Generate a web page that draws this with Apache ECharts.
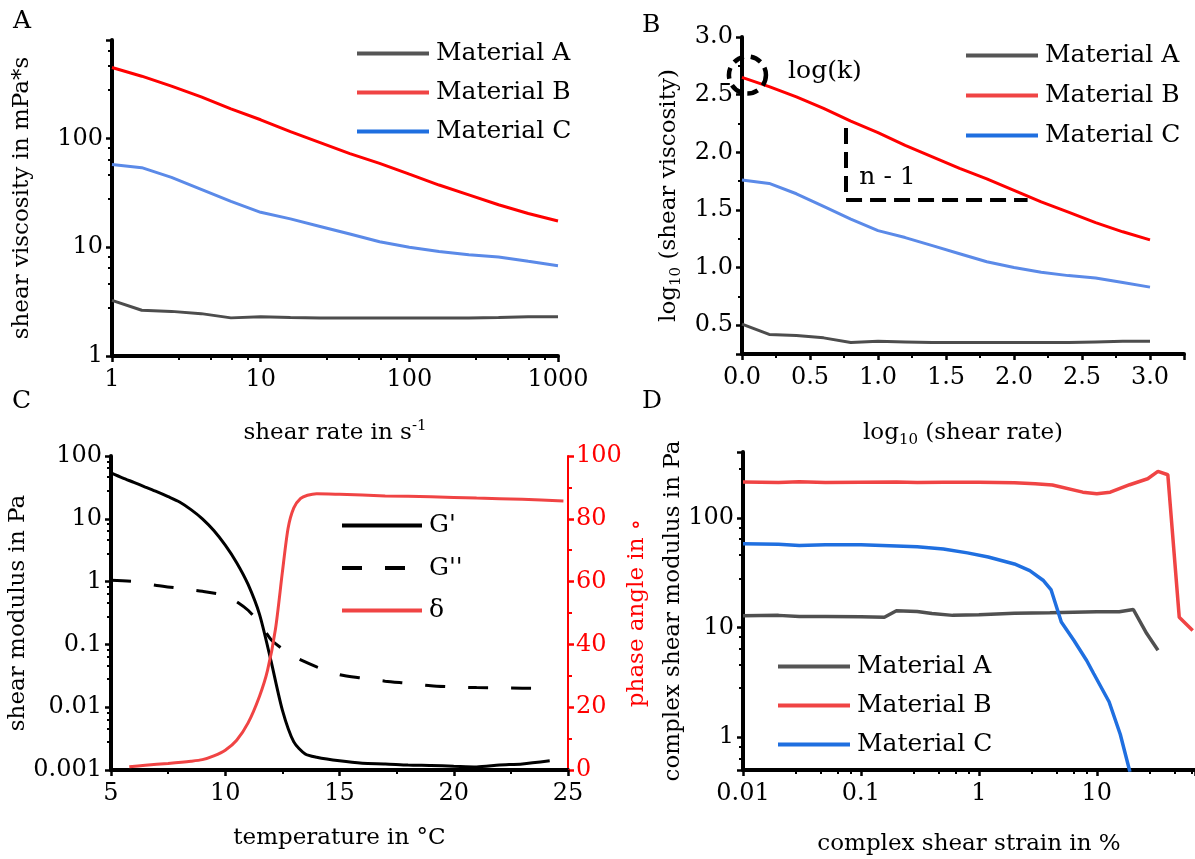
<!DOCTYPE html>
<html>
<head>
<meta charset="utf-8">
<title>Rheology panels</title>
<script src="https://cdn.jsdelivr.net/npm/echarts@6/dist/echarts.min.js"></script>
<style>
    body { margin: 0; background: #fff; }
    #chart { width: 1195px; height: 859px; }
</style>
</head>
<body>
<div id="chart"></div>
<script>
// ============================================
// Data
// ============================================

// A: flow curves, shear rate in 1/s, viscosity in mPa*s
const shearRate = [1, 1.585, 2.512, 3.981, 6.31, 10, 15.85, 25.12, 39.81, 63.1, 100, 158.5, 251.2, 398.1, 631, 1000];
const viscA = [3.24, 2.63, 2.57, 2.45, 2.24, 2.29, 2.26, 2.24, 2.24, 2.24, 2.24, 2.24, 2.24, 2.26, 2.29, 2.29];
const viscB = [447, 372, 302, 240, 186, 148, 115, 91.2, 72.4, 58.9, 46.8, 37.2, 30.2, 24.5, 20.4, 17.4];
const viscC = [57.5, 53.7, 43.7, 33.9, 26.3, 20.9, 18.2, 15.5, 13.2, 11.2, 10.0, 9.12, 8.51, 8.13, 7.41, 6.76];

// B: same curves, log10 / log10
const logRate = [0, 0.2, 0.4, 0.6, 0.8, 1.0, 1.2, 1.4, 1.6, 1.8, 2.0, 2.2, 2.4, 2.6, 2.8, 3.0];
const logViscA = [0.51, 0.42, 0.41, 0.39, 0.35, 0.36, 0.355, 0.35, 0.35, 0.35, 0.35, 0.35, 0.35, 0.355, 0.36, 0.36];
const logViscB = [2.65, 2.57, 2.48, 2.38, 2.27, 2.17, 2.06, 1.96, 1.86, 1.77, 1.67, 1.57, 1.48, 1.39, 1.31, 1.24];
const logViscC = [1.76, 1.73, 1.64, 1.53, 1.42, 1.32, 1.26, 1.19, 1.12, 1.05, 1.00, 0.96, 0.93, 0.91, 0.87, 0.83];

// B annotations (data coordinates)
const kCircle = [0.04, 2.67];
const kText = [0.61, 2.70];
const slopeText = [1.07, 1.785];
const slopeVert = [[0.765, 2.21], [0.765, 1.585]];
const slopeHoriz = [[0.765, 1.585], [2.1, 1.585]];

// C: temperature sweep
const tempG = [5, 5.5, 6, 6.5, 7, 7.5, 8, 8.5, 9, 9.5, 10, 10.5, 11, 11.5, 12, 12.5, 13, 13.5, 14, 15, 16, 17, 18, 19, 20, 21, 22, 23, 24.2];
const storageMod = [54, 45, 38, 32, 27, 22.5, 18.5, 14, 10, 6.5, 3.8, 2.0, 0.9, 0.3, 0.055, 0.009, 0.0028, 0.0018, 0.0016, 0.0014, 0.00128, 0.00125, 0.0012, 0.00118, 0.00115, 0.00112, 0.0012, 0.00125, 0.0014];
const tempG2 = [5, 6, 7, 8, 9, 10, 10.5, 11, 11.5, 12, 12.5, 13, 14, 15, 16, 17, 18, 19, 20, 21, 22, 23, 24.2];
const lossMod = [1.05, 1.0, 0.87, 0.78, 0.7, 0.6, 0.48, 0.35, 0.22, 0.12, 0.085, 0.064, 0.044, 0.033, 0.029, 0.026, 0.024, 0.022, 0.021, 0.0205, 0.0203, 0.0201, 0.0199];
const tempDelta = [5.8, 6.5, 7.5, 8.5, 9, 9.5, 10, 10.5, 11, 11.5, 11.85, 12.2, 12.5, 12.75, 13, 13.3, 13.6, 14, 15, 17, 19, 21, 23, 24.8];
const phaseAngle = [1.0, 1.5, 2.1, 2.8, 3.3, 4.5, 6.3, 9.5, 15, 23.5, 31.7, 45, 63, 77, 83.5, 86.5, 87.5, 88, 87.8, 87.3, 87, 86.6, 86.2, 85.7];

// D: amplitude sweep, strain in %, modulus in Pa
const strainA = [0.01, 0.02, 0.03, 0.05, 0.1, 0.158, 0.2, 0.3, 0.4, 0.6, 1, 2, 4, 10, 15.5, 20.4, 26.5, 33];
const modA = [12.8, 12.9, 12.6, 12.6, 12.5, 12.4, 14.2, 14, 13.4, 12.9, 13.1, 13.5, 13.6, 13.9, 13.9, 14.6, 8.8, 6.2];
const strainB = [0.01, 0.02, 0.03, 0.05, 0.1, 0.2, 0.3, 0.5, 1, 2, 3, 4.2, 7.6, 10, 13, 19, 27, 33, 40, 50, 65];
const modB = [213, 211, 214, 211, 212, 213, 211, 212, 212, 210, 205, 200, 172, 166, 172, 201, 228, 266, 248, 12.4, 9.4];
const strainC = [0.01, 0.02, 0.03, 0.05, 0.1, 0.2, 0.3, 0.5, 0.8, 1.2, 2, 2.7, 3.5, 4.1, 5.0, 6.4, 8.2, 9.4, 12.7, 15.8, 19.1];
const modC = [58, 57.5, 56, 57, 57, 55.5, 54.5, 52, 48, 44, 38, 33, 27, 22, 11.2, 7.6, 5.0, 3.8, 2.1, 1.06, 0.48];

// ============================================
// Styles
// ============================================
const FONT = 'DejaVu Serif';
const FS = 23;        // axis titles
const TICK_FS = 24;   // tick labels
const LEG_FS = 25;    // legend + notes
const GRAY = '#4d4d4d';
const RED = '#ff0000';
const RED_SOFT = '#f04444';
const BLUE_SOFT = '#5b8ae8';
const BLUE = '#1f6fe0';

function pairs(xs, ys) {
    return xs.map((x, i) => [x, ys[i]]);
}

function logLabel(v) {
    const l = Math.log10(v);
    if (Math.abs(l - Math.round(l)) > 1e-6) return '';
    return String(+v.toPrecision(3));
}

const subRich = {
    sub: { fontFamily: FONT, fontSize: 15, color: '#000', padding: [14, 0, 0, 0] },
    sup: { fontFamily: FONT, fontSize: 15, color: '#000', padding: [0, 0, 14, 0] }
};

function axis(opts, color) {
    color = color || '#000';
    const base = {
        nameLocation: 'middle',
        nameTextStyle: { fontFamily: FONT, fontSize: FS, color: color, rich: subRich },
        axisLine: { show: true, onZero: false, lineStyle: { color: color, width: 4 } },
        axisTick: { show: true, length: 6, lineStyle: { color: color, width: 2.5 } },
        minorTick: { show: true, length: 4, lineStyle: { color: color, width: 2 } },
        splitLine: { show: false },
        minorSplitLine: { show: false },
        axisLabel: { fontFamily: FONT, fontSize: TICK_FS, color: color, margin: 9 }
    };
    const out = Object.assign({}, base, opts);
    if (opts.axisLabel) out.axisLabel = Object.assign({}, base.axisLabel, opts.axisLabel);
    if (opts.axisLine) out.axisLine = Object.assign({}, base.axisLine, opts.axisLine);
    if (opts.minorTick) out.minorTick = Object.assign({}, base.minorTick, opts.minorTick);
    return out;
}

function line(name, data, color, x, y, width, extra) {
    return Object.assign({
        type: 'line',
        name: name,
        xAxisIndex: x,
        yAxisIndex: y,
        data: data,
        symbol: 'none',
        lineStyle: { color: color, width: width || 3 },
        itemStyle: { color: color },
        silent: true
    }, extra || {});
}

function legend(left, top, gap, items, width) {
    return {
        left: left,
        top: top,
        padding: 0,
        orient: 'vertical',
        itemWidth: width || 72,
        itemHeight: 24,
        itemGap: gap,
        selectedMode: false,
        textStyle: { fontFamily: FONT, fontSize: LEG_FS, color: '#000', padding: [0, 0, 0, 2] },
        data: items.map(it => ({
            name: it[0],
            itemStyle: { color: it[1], opacity: 0 },
            lineStyle: Object.assign({ color: it[1], width: 4 }, it[2] || {})
        }))
    };
}

function panelLetter(ch, x, y) {
    return {
        type: 'text',
        left: x,
        top: y,
        style: { text: ch, fontFamily: FONT, fontSize: 25, fill: '#000' }
    };
}

// ============================================
// Chart
// ============================================
function init() {
    const chart = echarts.init(document.getElementById('chart'), null, { renderer: 'canvas' });

    const option = {
        backgroundColor: '#fff',
        animation: false,
        graphic: [
            panelLetter('A', 13, 9),
            panelLetter('B', 642, 13),
            panelLetter('C', 12, 389),
            panelLetter('D', 642, 389)
        ],
        grid: [
            { left: 112, top: 40, width: 446, height: 316 },
            { left: 742, top: 37, width: 442, height: 317 },
            { left: 111, top: 456, width: 457, height: 314 },
            { left: 743, top: 452, width: 452, height: 318 }
        ],
        legend: [
            legend(355, 41, 14, [['Material A', '#555555'], ['Material B', RED_SOFT], ['Material C', BLUE]]),
            legend(964, 43, 15, [['Material A', '#555555'], ['Material B', RED_SOFT], ['Material C', BLUE]]),
            legend(340, 513, 17.5, [["G'", '#000'], ["G''", '#000', { type: [20, 23] }], ['δ', RED_SOFT]], 80),
            legend(776, 654, 14, [['Material A', '#555555'], ['Material B', RED_SOFT], ['Material C', BLUE]])
        ],
        xAxis: [
            axis({
                gridIndex: 0, type: 'log', logBase: 10, min: 1, max: 1000,
                name: 'shear rate in s{sup|-1}', nameGap: 63,
                axisLabel: { formatter: logLabel, margin: 12 }
            }),
            axis({
                gridIndex: 1, type: 'value', min: 0, max: 3.25, interval: 0.5,
                name: 'log{sub|10} (shear rate)', nameGap: 65,
                minorTick: { splitNumber: 2 },
                axisLabel: { formatter: v => v.toFixed(1), showMaxLabel: false, margin: 12 }
            }),
            axis({
                gridIndex: 2, type: 'value', min: 5, max: 25, interval: 5,
                name: 'temperature in °C', nameGap: 57,
                minorTick: { splitNumber: 2 },
                axisLabel: { margin: 12 }
            }),
            axis({
                gridIndex: 3, type: 'log', logBase: 10, min: 0.01, max: 68,
                name: 'complex shear strain in %', nameGap: 63,
                axisLabel: { formatter: logLabel, showMaxLabel: false, margin: 12 }
            })
        ],
        yAxis: [
            axis({
                gridIndex: 0, type: 'log', logBase: 10, min: 1, max: 800,
                name: 'shear viscosity in mPa*s', nameGap: 78,
                axisLabel: { formatter: logLabel, showMaxLabel: false }
            }),
            axis({
                gridIndex: 1, type: 'value', min: 0.25, max: 3.0, splitNumber: 6,
                name: 'log{sub|10} (shear viscosity)', nameGap: 58,
                minorTick: { splitNumber: 2 },
                axisLabel: { formatter: v => (Math.abs(v * 2 - Math.round(v * 2)) < 1e-6 ? v.toFixed(1) : ''), showMinLabel: false }
            }),
            axis({
                gridIndex: 2, type: 'log', logBase: 10, min: 0.001, max: 100,
                name: 'shear modulus in Pa', nameGap: 77,
                axisLabel: { formatter: logLabel }
            }),
            axis({
                gridIndex: 2, type: 'value', position: 'right', min: 0, max: 100, interval: 20,
                name: 'phase angle in ∘', nameGap: 51,
                minorTick: { splitNumber: 2 },
                axisLine: { lineStyle: { color: RED, width: 2 } },
                axisLabel: { margin: 8 }
            }, RED),
            axis({
                gridIndex: 3, type: 'log', logBase: 10, min: 0.5, max: 400,
                name: 'complex shear modulus in Pa', nameGap: 58,
                axisLabel: { formatter: logLabel, showMinLabel: false, showMaxLabel: false }
            })
        ],
        series: [
            // A
            line('Material A', pairs(shearRate, viscA), GRAY, 0, 0),
            line('Material B', pairs(shearRate, viscB), RED, 0, 0),
            line('Material C', pairs(shearRate, viscC), BLUE_SOFT, 0, 0),
            // B
            line('Material A', pairs(logRate, logViscA), GRAY, 1, 1),
            line('Material B', pairs(logRate, logViscB), RED, 1, 1, 3, {
                markLine: {
                    silent: true,
                    symbol: 'none',
                    label: { show: false },
                    lineStyle: { color: '#000', width: 4, type: [16, 8] },
                    data: [
                        [{ coord: slopeVert[0] }, { coord: slopeVert[1] }],
                        [{ coord: slopeHoriz[0] }, { coord: slopeHoriz[1] }]
                    ]
                }
            }),
            line('Material C', pairs(logRate, logViscC), BLUE_SOFT, 1, 1),
            {
                type: 'scatter', name: 'kCircle', xAxisIndex: 1, yAxisIndex: 1, silent: true, z: 5,
                data: [kCircle], symbol: 'circle', symbolSize: 37,
                itemStyle: { color: 'rgba(0,0,0,0)', opacity: 1, borderColor: '#000', borderWidth: 4.5, borderType: [11, 7] }
            },
            {
                type: 'scatter', name: 'notes', xAxisIndex: 1, yAxisIndex: 1, silent: true,
                symbolSize: 1, itemStyle: { color: 'rgba(0,0,0,0)', opacity: 1 },
                data: [
                    { value: kText, label: { formatter: 'log(k)' } },
                    { value: slopeText, label: { formatter: 'n - 1' } }
                ],
                label: { show: true, position: 'inside', fontFamily: FONT, fontSize: LEG_FS, color: '#000', opacity: 1 }
            },
            // C
            line("G'", pairs(tempG, storageMod), '#000', 2, 2, 3, { smooth: 0.25 }),
            line("G''", pairs(tempG2, lossMod), '#000', 2, 2, 3, {
                smooth: 0.25,
                lineStyle: { color: '#000', width: 3, type: [20, 23] }
            }),
            line('δ', pairs(tempDelta, phaseAngle), RED_SOFT, 2, 3, 3, { smooth: 0.25 }),
            // D
            line('Material A', pairs(strainA, modA), '#505050', 3, 4, 3.5),
            line('Material B', pairs(strainB, modB), RED_SOFT, 3, 4, 3.5),
            line('Material C', pairs(strainC, modC), BLUE, 3, 4, 3.5)
        ]
    };

    chart.setOption(option);
}

document.addEventListener('DOMContentLoaded', init);
</script>
</body>
</html>
